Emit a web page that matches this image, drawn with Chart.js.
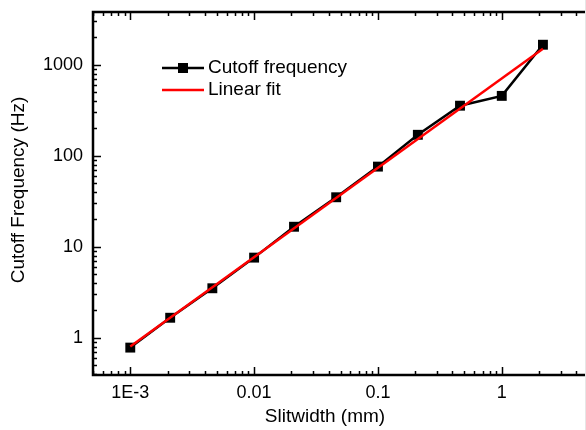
<!DOCTYPE html>
<html>
<head>
<meta charset="utf-8">
<script src="https://cdn.jsdelivr.net/npm/chart.js@4/dist/chart.umd.min.js"></script>
<style>
  html, body { margin: 0; padding: 0; background: #fff; }
  #wrap { width: 586px; height: 430px; }
</style>
</head>
<body>
<div id="wrap"><canvas id="chart" width="586" height="430"></canvas></div>
<script>
// slit width (mm) and measured cutoff frequency (Hz)
const slitWidths = [0.001, 0.0021, 0.0046, 0.01, 0.021, 0.046, 0.1, 0.21, 0.46, 1, 2.15];
const cutoffFreqs = [0.78, 1.66, 3.5, 7.6, 16.6, 35, 76, 170, 355, 455, 1660];
// end points of the linear fit (log-log)
const fitX = [0.001, 2.15];
const fitY = [0.8, 1500];

const xTicks = [0.001, 0.01, 0.1, 1];
const yTicks = [1, 10, 100, 1000];
const xLabels = ['1E-3', '0.01', '0.1', '1'];
const yLabels = ['1', '10', '100', '1000'];

const seriesNames = ['Cutoff frequency', 'Linear fit'];
const FONT = '"Liberation Sans", Arial, sans-serif';

function toPoints(xs, ys) {
  return xs.map((x, i) => ({ x: x, y: ys[i] }));
}

// log ticks inside the frame (the right side is cut off in the original)
function logTickValues(min, max) {
  const out = [];
  for (let e = Math.floor(Math.log10(min)); e <= Math.ceil(Math.log10(max)); e++) {
    for (let m = 1; m <= 9; m++) {
      const v = m * Math.pow(10, e);
      if (v >= min && v <= max) out.push({ v: v, major: m === 1 });
    }
  }
  return out;
}

const framePlugin = {
  id: 'frame',
  afterDatasetsDraw(chart) {
    const { ctx, chartArea: a, scales, width } = chart;
    ctx.save();
    ctx.strokeStyle = '#000';
    ctx.lineWidth = 1.5;
    ctx.beginPath();
    logTickValues(scales.x.min, scales.x.max).forEach((t) => {
      const px = Math.round(scales.x.getPixelForValue(t.v)) + 0.5;
      const len = t.major ? 8 : 4;
      ctx.moveTo(px, a.bottom); ctx.lineTo(px, a.bottom - len);
      ctx.moveTo(px, a.top); ctx.lineTo(px, a.top + len);
    });
    logTickValues(scales.y.min, scales.y.max).forEach((t) => {
      const py = Math.round(scales.y.getPixelForValue(t.v)) + 0.5;
      const len = t.major ? 8 : 4;
      ctx.moveTo(a.left, py); ctx.lineTo(a.left + len, py);
    });
    ctx.stroke();
    ctx.lineWidth = 2.5;
    ctx.beginPath();
    ctx.moveTo(width, a.top); ctx.lineTo(a.left, a.top);
    ctx.lineTo(a.left, a.bottom); ctx.lineTo(width, a.bottom);
    ctx.stroke();
    // faint edge of the cropped figure
    ctx.strokeStyle = '#e6e6e6';
    ctx.lineWidth = 1;
    ctx.beginPath();
    ctx.moveTo(585.5, 0); ctx.lineTo(585.5, chart.height);
    ctx.stroke();

    // axis titles
    ctx.fillStyle = '#000';
    ctx.font = '19px ' + FONT;
    ctx.textAlign = 'center';
    ctx.textBaseline = 'middle';
    ctx.fillText('Slitwidth (mm)', 325, 417);
    ctx.save();
    ctx.translate(19, 190);
    ctx.rotate(-Math.PI / 2);
    ctx.fillText('Cutoff Frequency (Hz)', 0, 0);
    ctx.restore();

    // legend
    ctx.textAlign = 'left';
    const rows = [
      { y: 68, color: '#000', marker: true },
      { y: 90, color: '#ff0000', marker: false }
    ];
    rows.forEach((r, i) => {
      ctx.strokeStyle = r.color;
      ctx.lineWidth = 2.5;
      ctx.beginPath();
      ctx.moveTo(162, r.y); ctx.lineTo(204, r.y);
      ctx.stroke();
      if (r.marker) {
        ctx.fillStyle = '#000';
        ctx.fillRect(178, r.y - 5, 10, 10);
      }
      ctx.fillStyle = '#000';
      ctx.fillText(seriesNames[i], 208, r.y);
    });
    ctx.restore();
  }
};

const ctx = document.getElementById('chart').getContext('2d');
const chart = new Chart(ctx, {
  type: 'line',
  data: {
    datasets: [
      {
        label: seriesNames[1],
        data: toPoints(fitX, fitY),
        borderColor: '#ff0000',
        borderWidth: 2.5,
        pointRadius: 0,
        order: 0
      },
      {
        label: seriesNames[0],
        data: toPoints(slitWidths, cutoffFreqs),
        borderColor: '#000',
        backgroundColor: '#000',
        borderWidth: 2.5,
        pointStyle: 'rect',
        pointRadius: 7,
        pointBorderWidth: 0,
        tension: 0,
        order: 1
      }
    ]
  },
  options: {
    responsive: false,
    animation: false,
    events: [],
    layout: { autoPadding: false, padding: { left: 0, top: 12, right: 1, bottom: 0 } },
    plugins: { legend: { display: false }, tooltip: { enabled: false } },
    scales: {
      x: {
        type: 'logarithmic',
        min: 0.0005,
        max: 4.7,
        bounds: 'data',
        grid: { display: false, drawTicks: false },
        border: { display: false },
        afterBuildTicks: (s) => { s.ticks = xTicks.map((v) => ({ value: v })); },
        afterFit: (s) => { s.height = 55; s.paddingLeft = 0; s.paddingRight = 0; },
        ticks: {
          autoSkip: false,
          maxRotation: 0,
          padding: 7,
          color: '#000',
          font: { family: FONT, size: 18 },
          callback: (v) => xLabels[xTicks.indexOf(v)]
        }
      },
      y: {
        type: 'logarithmic',
        min: 0.39,
        max: 3800,
        bounds: 'data',
        grid: { display: false, drawTicks: false },
        border: { display: false },
        afterBuildTicks: (s) => { s.ticks = yTicks.map((v) => ({ value: v })); },
        afterFit: (s) => { s.width = 93; s.paddingTop = 0; s.paddingBottom = 0; },
        ticks: {
          autoSkip: false,
          padding: 10,
          color: '#000',
          font: { family: FONT, size: 18 },
          callback: (v) => yLabels[yTicks.indexOf(v)]
        }
      }
    }
  },
  plugins: [framePlugin]
});
</script>
</body>
</html>
